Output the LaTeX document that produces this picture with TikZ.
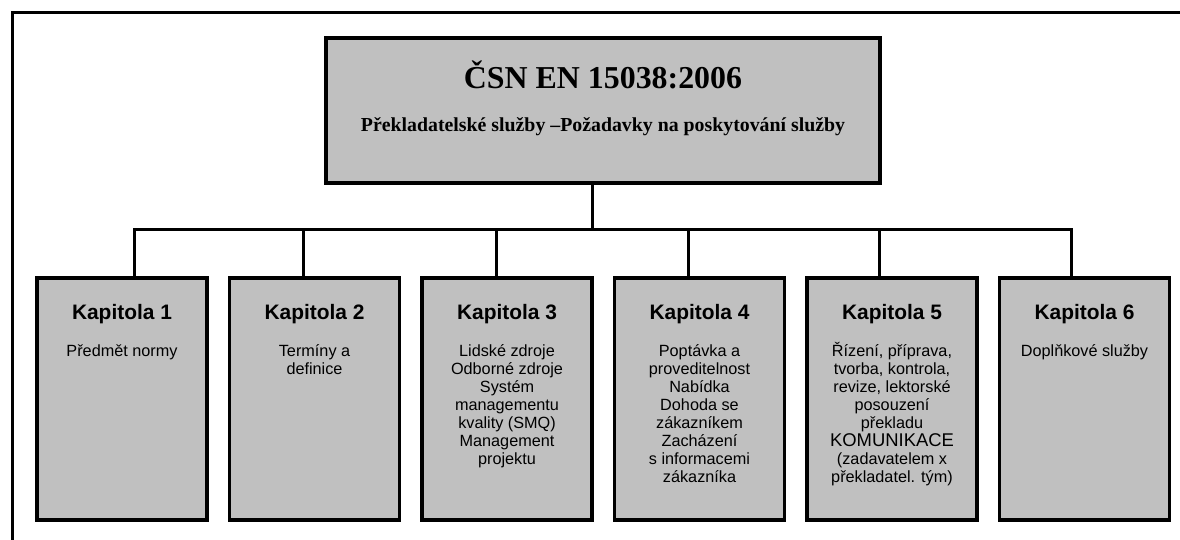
\documentclass[tikz,border=0pt]{standalone}
\usepackage{fontspec}
\setmainfont{Liberation Sans}
\newfontfamily\headfont{Liberation Serif}
\usetikzlibrary{positioning}
\definecolor{boxgray}{RGB}{192,192,192}
\newcommand{\chapfont}{\fontsize{16.3}{18}\selectfont\setlength{\lineskiplimit}{-20bp}}
\tikzset{
  frame/.style={line width=3bp},
  headbox/.style={
    draw,
    fill=boxgray,
    line width=3.5bp,
    minimum width=554bp,
    minimum height=145bp,
    inner sep=0pt
  },
  chapbox/.style={
    draw,
    fill=boxgray,
    line width=3.5bp,
    minimum width=170bp,
    minimum height=242bp,
    inner sep=0pt
  },
  chaptext/.style={
    anchor=north,
    align=center,
    inner sep=0pt,
    font=\chapfont
  },
  link/.style={line width=3bp}
}
\newcommand{\kaptitle}[1]{{\fontsize{21}{24}\selectfont\bfseries #1}}
\newcommand{\bigword}[1]{{\fontsize{18.5}{20}\selectfont #1}}

\begin{document}
\begin{tikzpicture}[x=1bp, y=1bp, node distance=19bp]
        \useasboundingbox (0,0) rectangle (1180,540);
        \draw[frame] (12,0) |- (1180,527);
        % norm
        \node[headbox] (head) at (603,429.5) {};
        \node[anchor=base, inner sep=0pt, font=\headfont\bfseries\fontsize{32}{36}\selectfont] (title) at ([yshift=-52bp]head.north) {ČSN EN 15038:2006};
        \node[anchor=base, inner sep=0pt, font=\headfont\bfseries\fontsize{19.9}{22}\selectfont] (subtitle) at ([yshift=-95bp]head.north) {Překladatelské služby –Požadavky na poskytování služby};
        % chapters
        \node[chapbox] (k1) at (122,141) {};
        \node[chapbox, right=of k1] (k2) {};
        \node[chapbox, right=of k2] (k3) {};
        \node[chapbox, right=of k3] (k4) {};
        \node[chapbox, right=of k4] (k5) {};
        \node[chapbox, right=of k5] (k6) {};
        \node[chaptext] (t1) at ([yshift=-28bp]k1.north) {\kaptitle{Kapitola 1}\\[19bp]Předmět normy};
        \node[chaptext] (t2) at ([yshift=-28bp]k2.north) {\kaptitle{Kapitola 2}\\[19bp]Termíny a\\definice};
        \node[chaptext] (t3) at ([yshift=-28bp]k3.north) {\kaptitle{Kapitola 3}\\[19bp]Lidské zdroje\\Odborné zdroje\\Systém\\managementu\\kvality (SMQ)\\Management\\projektu};
        \node[chaptext] (t4) at ([yshift=-28bp]k4.north) {\kaptitle{Kapitola 4}\\[19bp]Poptávka a\\proveditelnost\\Nabídka\\Dohoda se\\zákazníkem\\Zacházení\\s informacemi\\zákazníka};
        \node[chaptext] (t5) at ([yshift=-28bp]k5.north) {\kaptitle{Kapitola 5}\\[19bp]Řízení, příprava,\\tvorba, kontrola,\\revize, lektorské\\posouzení\\překladu\\\bigword{KOMUNIKACE}\\(zadavatelem x\\překladatel. tým)};
        \node[chaptext] (t6) at ([yshift=-28bp]k6.north) {\kaptitle{Kapitola 6}\\[19bp]Doplňkové služby};
        % tree lines
        \draw[link] ([xshift=-11bp]head.south) -- ++(0,-44.5bp);
        \draw[link] ([xshift=12bp]k1.north) -- ++(0,47bp) -| ([xshift=-13.5bp]k6.north);
        \draw[link] ([xshift=-11.5bp]k2.north) -- ++(0,47bp);
        \draw[link] ([xshift=-11bp]k3.north) -- ++(0,47bp);
        \draw[link] ([xshift=-11.5bp]k4.north) -- ++(0,47bp);
        \draw[link] ([xshift=-13bp]k5.north) -- ++(0,47bp);
      \end{tikzpicture}
\end{document}
